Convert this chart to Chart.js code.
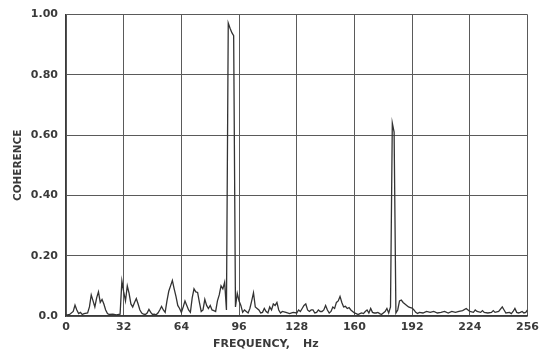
<!DOCTYPE html>
<html>
<head>
<meta charset="utf-8">
<script src="https://cdn.jsdelivr.net/npm/chart.js@4"></script>
<style>
  html, body { margin: 0; padding: 0; background: #fff; }
</style>
</head>
<body>
<canvas id="coh" width="544" height="356"></canvas>
<script>
// frequency (Hz) and coherence
const freq = [
  0, 2, 4, 5, 6, 7, 8, 9, 10, 12, 13, 14, 15, 16, 17, 18, 19, 20, 21, 22,
  23, 24, 26, 28, 30, 31, 32, 33, 34, 35, 36, 37, 38, 39, 40, 41, 42, 43, 44, 45,
  46, 47, 48, 49, 50, 51, 52, 53, 54, 55, 56, 57, 58, 59, 60, 61, 62, 63, 64, 65,
  66, 67, 68, 69, 70, 71, 72, 73, 74, 75, 76, 77, 78, 79, 80, 81, 82, 83, 84, 85,
  86, 87, 88, 89, 90, 91, 92, 93, 94, 95, 96, 97, 98, 99, 100, 101, 102, 103, 104, 105,
  106, 107, 108, 109, 110, 111, 112, 113, 114, 115, 116, 117, 118, 119, 120, 122, 124, 126, 128, 129,
  130, 131, 132, 133, 134, 135, 136, 137, 138, 139, 140, 141, 142, 143, 144, 145, 146, 147, 148, 149,
  150, 151, 152, 153, 154, 155, 156, 157, 158, 159, 160, 161, 162, 163, 164, 165, 166, 167, 168, 169,
  170, 171, 172, 173, 174, 175, 176, 177, 178, 179, 180, 181, 182, 183, 184, 185, 186, 187, 188, 189,
  190, 191, 192, 193, 194, 195, 196, 198, 200, 202, 204, 206, 208, 210, 212, 214, 216, 218, 220, 222,
  223, 224, 226, 227, 228, 230, 231, 232, 234, 236, 237, 238, 240, 242, 243, 244, 246, 247, 248, 249,
  250, 251, 252, 253, 254, 255, 256
];
const coherence = [
  0.003, 0.005, 0.015, 0.036, 0.02, 0.008, 0.012, 0.005, 0.008, 0.01, 0.03, 0.07, 0.05, 0.03, 0.06, 0.08, 0.045, 0.055, 0.04, 0.02,
  0.008, 0.005, 0.006, 0.004, 0.006, 0.116, 0.08, 0.05, 0.1, 0.075, 0.04, 0.03, 0.045, 0.058, 0.04, 0.02, 0.01, 0.006, 0.005, 0.01,
  0.022, 0.012, 0.005, 0.006, 0.004, 0.01, 0.02, 0.032, 0.02, 0.012, 0.05, 0.082, 0.1, 0.118, 0.09, 0.065, 0.035, 0.025, 0.012, 0.03,
  0.05, 0.035, 0.02, 0.012, 0.06, 0.09, 0.08, 0.078, 0.045, 0.015, 0.02, 0.055, 0.035, 0.025, 0.035, 0.02, 0.018, 0.015, 0.05, 0.07,
  0.1, 0.09, 0.112, 0.02, 0.972, 0.955, 0.94, 0.93, 0.03, 0.075, 0.05, 0.035, 0.012, 0.02, 0.015, 0.01, 0.025, 0.05, 0.077, 0.03,
  0.025, 0.02, 0.01, 0.012, 0.025, 0.015, 0.01, 0.03, 0.02, 0.04, 0.035, 0.045, 0.02, 0.01, 0.015, 0.012, 0.008, 0.012, 0.01, 0.02,
  0.015, 0.025, 0.035, 0.04, 0.02, 0.015, 0.02, 0.02, 0.01, 0.012, 0.02, 0.015, 0.015, 0.02, 0.035, 0.02, 0.01, 0.015, 0.03, 0.025,
  0.045, 0.05, 0.065, 0.045, 0.03, 0.032, 0.025, 0.028, 0.02, 0.015, 0.01, 0.008, 0.005, 0.008, 0.01, 0.008, 0.015, 0.02, 0.01, 0.025,
  0.012, 0.01, 0.01, 0.012, 0.008, 0.005, 0.01, 0.015, 0.025, 0.01, 0.03, 0.64, 0.61, 0.01, 0.02, 0.05, 0.053, 0.045, 0.04, 0.035,
  0.03, 0.028, 0.026, 0.02, 0.012, 0.008, 0.012, 0.01, 0.015, 0.012, 0.015, 0.01, 0.012, 0.015, 0.01, 0.015, 0.012, 0.015, 0.018, 0.025,
  0.02, 0.015, 0.012, 0.02, 0.015, 0.012, 0.018, 0.012, 0.01, 0.012, 0.018, 0.012, 0.015, 0.03, 0.02, 0.01, 0.012, 0.008, 0.015, 0.025,
  0.012, 0.01, 0.012, 0.015, 0.01, 0.012, 0.02
];
const xTicks = [0, 32, 64, 96, 128, 160, 192, 224, 256];
const yTicks = [0, 0.2, 0.4, 0.6, 0.8, 1.0];
const yTickLabels = ["0.0", "0.20", "0.40", "0.60", "0.80", "1.00"];

const ink = "#3a3a3a";
const gridInk = "#5a5a5a";
const tickFont = { family: "DejaVu Sans", size: 11, weight: "bold" };

// x title sits left of centre in the original, so draw it by hand
const xTitle = {
  id: "xTitle",
  afterDraw: (chart) => {
    const { ctx } = chart;
    ctx.save();
    ctx.fillStyle = ink;
    ctx.font = "bold 11px 'DejaVu Sans'";
    ctx.textBaseline = "middle";
    ctx.textAlign = "left";
    ctx.fillText("FREQUENCY,", 213, 344);
    ctx.fillText("Hz", 303, 344);
    ctx.restore();
  },
};

let chart = new Chart(document.getElementById("coh"), {
  type: "line",
  data: {
    datasets: [
      {
        label: "Coherence",
        data: freq.map((f, i) => ({ x: f, y: coherence[i] })),
        borderColor: "#333",
        borderWidth: 1.3,
        pointRadius: 0,
        tension: 0,
        fill: false,
      },
    ],
  },
  options: {
    responsive: false,
    animation: false,
    layout: { padding: { top: 12, right: 16, left: 0, bottom: 0 } },
    plugins: {
      legend: { display: false },
      tooltip: { enabled: false },
    },
    scales: {
      x: {
        type: "linear",
        min: 0,
        max: 256,
        afterBuildTicks: (scale) => {
          scale.ticks = xTicks.map((v) => ({ value: v }));
        },
        afterFit: (scale) => {
          scale.height = 40;
        },
        grid: { color: gridInk, lineWidth: 1, drawTicks: false },
        border: { color: ink, width: 1.2 },
        ticks: {
          color: ink,
          font: tickFont,
          padding: 5,
          maxRotation: 0,
          autoSkip: false,
        },
      },
      y: {
        min: 0,
        max: 1,
        afterBuildTicks: (scale) => {
          scale.ticks = yTicks.map((v) => ({ value: v }));
        },
        afterFit: (scale) => {
          scale.width = 66;
        },
        grid: { color: gridInk, lineWidth: 1, drawTicks: false },
        border: { color: ink, width: 1.2 },
        ticks: {
          color: ink,
          font: tickFont,
          padding: 8,
          callback: (v) => yTickLabels[yTicks.findIndex((t) => Math.abs(t - v) < 1e-6)],
        },
        title: {
          display: true,
          text: "COHERENCE",
          color: ink,
          font: { family: "DejaVu Sans", size: 10.5, weight: "bold" },
          padding: { top: 12, bottom: 0 },
        },
      },
    },
  },
  plugins: [xTitle],
});
</script>
</body>
</html>
